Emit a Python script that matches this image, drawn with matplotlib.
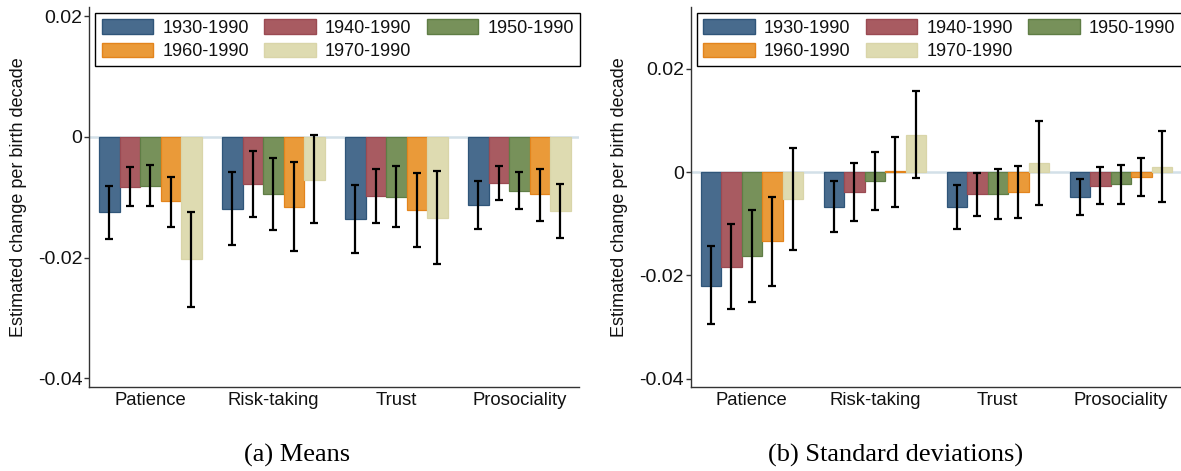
import matplotlib
matplotlib.use("Agg")
import matplotlib.pyplot as plt
from matplotlib.patches import Patch
import numpy as np

plt.rcParams['font.family'] = ['Liberation Sans', 'DejaVu Sans']

categories = ["Patience", "Risk-taking", "Trust", "Prosociality"]
cohorts = ["1930-1990", "1940-1990", "1950-1990", "1960-1990", "1970-1990"]

# Panel (a): Means  -- estimate, lower CI, upper CI per cohort (rows) x category (cols)
means_est = [
    [-0.0125, -0.0119, -0.0136, -0.0113],
    [-0.0083, -0.0078, -0.0098, -0.0077],
    [-0.0081, -0.0095, -0.0099, -0.0090],
    [-0.0107, -0.0116, -0.0121, -0.0095],
    [-0.0203, -0.0071, -0.0134, -0.0123],
]
means_lo = [
    [-0.0169, -0.0180, -0.0193, -0.0153],
    [-0.0115, -0.0133, -0.0142, -0.0104],
    [-0.0114, -0.0154, -0.0149, -0.0120],
    [-0.0150, -0.0190, -0.0183, -0.0139],
    [-0.0282, -0.0143, -0.0211, -0.0168],
]
means_hi = [
    [-0.0082, -0.0058, -0.0080, -0.0073],
    [-0.0050, -0.0023, -0.0054, -0.0049],
    [-0.0047, -0.0035, -0.0049, -0.0059],
    [-0.0066, -0.0042, -0.0060, -0.0053],
    [-0.0124, 0.0003, -0.0056, -0.0079],
]

# Panel (b): Standard deviations
sds_est = [
    [-0.0221, -0.0068, -0.0068, -0.0048],
    [-0.0183, -0.0039, -0.0043, -0.0026],
    [-0.0163, -0.0017, -0.0042, -0.0023],
    [-0.0134, 0.0002, -0.0039, -0.0010],
    [-0.0053, 0.0072, 0.0018, 0.0010],
]
sds_lo = [
    [-0.0295, -0.0116, -0.0110, -0.0084],
    [-0.0265, -0.0094, -0.0085, -0.0061],
    [-0.0252, -0.0073, -0.0090, -0.0061],
    [-0.0221, -0.0067, -0.0088, -0.0047],
    [-0.0151, -0.0011, -0.0063, -0.0058],
]
sds_hi = [
    [-0.0144, -0.0018, -0.0025, -0.0013],
    [-0.0100, 0.0017, -0.0002, 0.0010],
    [-0.0073, 0.0039, 0.0006, 0.0014],
    [-0.0048, 0.0069, 0.0012, 0.0028],
    [0.0047, 0.0157, 0.0100, 0.0080],
]

ytick_vals = [-0.04, -0.02, 0, 0.02]
ytick_labels = ["-0.04", "-0.02", "0", "0.02"]
ylabel = "Estimated change per birth decade"
captions = ["(a) Means", "(b) Standard deviations)"]

fills = ["#486b8d", "#a85b61", "#77915a", "#ea9a39", "#dedbb1"]
edges = ["#2f5579", "#9a4a52", "#5f7d45", "#e3841c", "#d9d5a9"]

W, H = 1181, 471
fig = plt.figure(figsize=(W / 100, H / 100), dpi=100)

ax_w = 489.8 / W
ax_b = 1 - 387.3 / H
ax_h = (387.3 - 7) / H
ax1 = fig.add_axes([89.5 / W, ax_b, ax_w, ax_h])
ax2 = fig.add_axes([691 / W, ax_b, ax_w, ax_h])

bw = 1 / 6
xg = np.arange(len(categories))


def draw(ax, est, lo, hi, ylim):
    ax.axhline(0, color="#d3e0e8", lw=1.8, zorder=0.5)
    for i in range(len(cohorts)):
        e = np.array(est[i])
        l = np.array(lo[i])
        h = np.array(hi[i])
        x = xg + (i - 2) * bw
        ax.bar(x, e, width=bw, color=fills[i], edgecolor=edges[i],
               linewidth=0.9, zorder=2)
        ax.errorbar(x, e, yerr=[e - l, h - e], fmt="none", ecolor="black",
                    elinewidth=1.6, capsize=2.9, capthick=1.6, zorder=3)
    ax.set_xlim(-0.494, 3.488)
    ax.set_ylim(*ylim)
    ax.set_xticks(xg)
    ax.set_xticklabels(categories)
    ax.set_yticks(ytick_vals)
    ax.set_yticklabels(ytick_labels)
    ax.tick_params(axis="x", length=0, pad=3.5, labelsize=13.3, colors="#111111")
    ax.tick_params(axis="y", direction="out", length=3.5, width=1, pad=1.5,
                   labelsize=14, colors="#111111", color="#333333")
    for s in ["top", "right"]:
        ax.spines[s].set_visible(False)
    for s in ["left", "bottom"]:
        ax.spines[s].set_color("#333333")
        ax.spines[s].set_linewidth(1.0)
    ax.set_ylabel(ylabel, fontsize=13, color="#111111")
    ax.yaxis.set_label_coords(-0.1286, 0.5)

    handles = [Patch(facecolor=fills[i], edgecolor=edges[i], linewidth=1.0)
               for i in range(len(cohorts))]
    order = [0, 3, 1, 4, 2]
    leg = ax.legend([handles[k] for k in order], [cohorts[k] for k in order],
                    loc="upper left", bbox_to_anchor=(0.0122, 0.985), ncol=3,
                    fontsize=13, handlelength=2.86, handleheight=0.87,
                    handletextpad=0.5, columnspacing=0.84, labelspacing=0.33,
                    borderpad=0.35, borderaxespad=0, frameon=True,
                    fancybox=False, edgecolor="black", framealpha=1)
    leg.get_frame().set_linewidth(1.0)
    for t in leg.get_texts():
        t.set_color("#111111")


draw(ax1, means_est, means_lo, means_hi, (-0.0415, 0.0215))
draw(ax2, sds_est, sds_lo, sds_hi, (-0.0417, 0.0320))

fig.text(297.5 / W, 1 - 462 / H, captions[0], ha="center", va="baseline",
         fontsize=19, family=["Liberation Serif", "DejaVu Serif"])
fig.text(895.5 / W, 1 - 462 / H, captions[1], ha="center", va="baseline",
         fontsize=19, family=["Liberation Serif", "DejaVu Serif"])

fig.savefig("out.png", dpi=100)
